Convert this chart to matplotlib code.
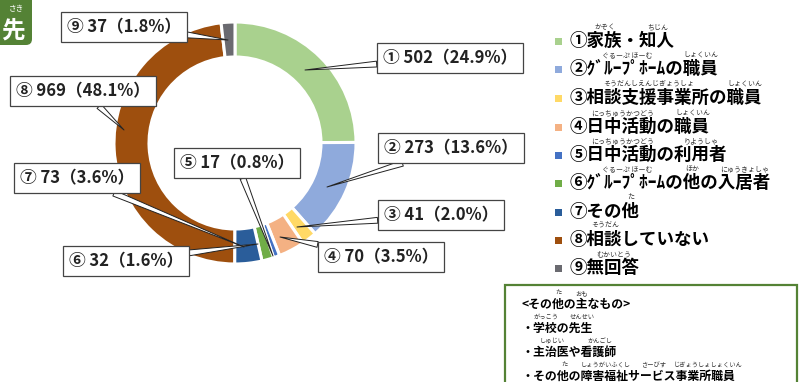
import unicodedata
import matplotlib
matplotlib.use('Agg')
import matplotlib.pyplot as plt
from matplotlib.patches import Rectangle, FancyBboxPatch

plt.rcParams['font.family'] = ['Noto Sans CJK JP', 'DejaVu Sans']

# data
nums = ['①', '②', '③', '④', '⑤', '⑥', '⑦', '⑧', '⑨']
counts = [502, 273, 41, 70, 17, 32, 73, 969, 37]
pcts = [24.9, 13.6, 2.0, 3.5, 0.8, 1.6, 3.6, 48.1, 1.8]
names = ['家族・知人', 'ｸﾞﾙｰﾌﾟﾎｰﾑの職員', '相談支援事業所の職員', '日中活動の職員',
         '日中活動の利用者', 'ｸﾞﾙｰﾌﾟﾎｰﾑの他の入居者', 'その他', '相談していない', '無回答']
# furigana: (start char index in name, number of chars, reading)
ruby = [
    [(0, 2, 'かぞく'), (3, 2, 'ちじん')],
    [(0, 9, 'ぐるーぷ ほーむ'), (10, 2, 'しょくいん')],
    [(0, 7, 'そうだんしえんじぎょうしょ'), (8, 2, 'しょくいん')],
    [(0, 4, 'にっちゅうかつどう'), (5, 2, 'しょくいん')],
    [(0, 4, 'にっちゅうかつどう'), (5, 3, 'りようしゃ')],
    [(0, 9, 'ぐるーぷ ほーむ'), (10, 1, 'ほか'), (12, 3, 'にゅうきょしゃ')],
    [(2, 1, 'た')],
    [(0, 2, 'そうだん')],
    [(0, 3, 'むかいとう')],
]
colors = ['#a9d18e', '#8faadc', '#ffd966', '#f4b183', '#4472c4',
          '#70ad47', '#2a5d9a', '#9e4f0e', '#6a6a70']

# callout placement (px): box centre, point in slice
box_xy = [(450, 58), (451, 148), (441, 215), (381, 257), (237, 163),
          (126, 261), (77, 178), (83, 91), (124, 27)]
tip_xy = [(305, 70), (327, 187), (297, 227), (280, 237), (273, 256),
          (258, 244), (244, 247), (124, 130), (228, 40)]

other_lines = ['<その他の主なもの>', '・学校の先生', '・主治医や看護師',
               '・その他の障害福祉サービス事業所職員']
other_ruby = [
    [(3, 1, 'た'), (5, 1, 'おも')],
    [(1, 2, 'がっこう'), (4, 2, 'せんせい')],
    [(1, 3, 'しゅじい'), (5, 3, 'かんごし')],
    [(3, 1, 'た'), (5, 4, 'しょうがいふくし'), (9, 4, 'さーびす'), (13, 5, 'じぎょうしょしょくいん')],
]

W, H = 799, 382
fig = plt.figure(figsize=(W / 100, H / 100), dpi=100)
ax = fig.add_axes([0, 0, 1, 1])


def Y(y):
    return H - y


cx, cy, R = 235, 143, 121
ax.pie(counts, colors=colors, startangle=90, counterclock=False,
       center=(cx, Y(cy)), radius=R,
       wedgeprops=dict(width=35, edgecolor='white', linewidth=2.2))

for i in range(len(counts)):
    txt = f'{nums[i]} {counts[i]}（{pcts[i]:.1f}%）'
    ax.annotate(txt, xy=(tip_xy[i][0], Y(tip_xy[i][1])),
                xytext=(box_xy[i][0], Y(box_xy[i][1])),
                ha='center', va='center', fontsize=12, fontweight='bold', color='#222222',
                bbox=dict(boxstyle='square,pad=0.35', fc='white', ec='#444444', lw=0.9),
                arrowprops=dict(arrowstyle='wedge,tail_width=0.35', fc='white', ec='#222222', lw=0.7,
                                shrinkA=0, shrinkB=0))


def char_w(c, full):
    return full / 2 if unicodedata.east_asian_width(c) in ('H', 'Na') else full


def draw_ruby(text, x0, y, full, rlist, dy, rsize):
    xs = [x0]
    for c in text:
        xs.append(xs[-1] + char_w(c, full))
    for start, n, reading in rlist:
        xm = (xs[start] + xs[start + n]) / 2
        ax.text(xm, Y(y - dy), reading, fontsize=rsize, ha='center', va='center', color='#333333')


# legend
leg_y = [41, 69, 98, 127, 155, 183, 212, 240, 268]
for i in range(len(names)):
    ax.add_patch(Rectangle((555, Y(leg_y[i]) - 3.5), 7, 7, color=colors[i], lw=0))
    ax.text(570, Y(leg_y[i]), nums[i] + names[i], fontsize=12.6, fontweight='bold',
            ha='left', va='center', color='black')
    draw_ruby(names[i], 570 + 17.5, leg_y[i], 17.5, ruby[i], 14, 5)

# box of other answers
ax.add_patch(Rectangle((505, Y(392)), 292, 107, fc='white', ec='#548235', lw=1.6))
other_y = [304, 328, 352, 376]
for j, line in enumerate(other_lines):
    ax.text(522, Y(other_y[j]), line, fontsize=8.6, fontweight='bold', ha='left', va='center', color='black')
    draw_ruby(line, 522, other_y[j], 12, other_ruby[j], 11, 4.5)

# green tab at top left
ax.add_patch(FancyBboxPatch((-20, Y(45)), 52, 70, boxstyle='round,pad=0,rounding_size=6',
                            fc='#548235', ec='none'))
ax.text(13, Y(31), '先', fontsize=17, color='white', ha='center', va='center', fontweight='bold')
ax.text(16, Y(9), 'さき', fontsize=5.5, color='white', ha='center', va='center')

ax.set_xlim(0, W)
ax.set_ylim(0, H)
ax.set_aspect('equal')
ax.axis('off')
fig.savefig('out.png', dpi=100)
